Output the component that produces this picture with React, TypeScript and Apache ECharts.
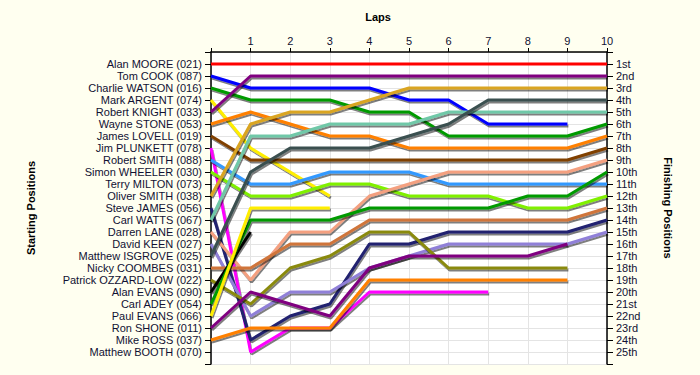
import React, { useEffect, useRef } from "react";
import * as echarts from "echarts";

const laps = [0, 1, 2, 3, 4, 5, 6, 7, 8, 9, 10];
const startNames = [
  "Alan MOORE (021)", "Tom COOK (087)", "Charlie WATSON (016)", "Mark ARGENT (074)",
  "Robert KNIGHT (033)", "Wayne STONE (053)", "James LOVELL (019)", "Jim PLUNKETT (078)",
  "Robert SMITH (088)", "Simon WHEELER (030)", "Terry MILTON (073)", "Oliver SMITH (038)",
  "Steve JAMES (056)", "Carl WATTS (067)", "Darren LANE (028)", "David KEEN (027)",
  "Matthew ISGROVE (025)", "Nicky COOMBES (031)", "Patrick OZZARD-LOW (022)", "Alan EVANS (090)",
  "Carl ADEY (054)", "Paul EVANS (066)", "Ron SHONE (011)", "Mike ROSS (037)", "Matthew BOOTH (070)",
];
const finishLabels = [
  "1st", "2nd", "3rd", "4th", "5th", "6th", "7th", "8th", "9th", "10th", "11th", "12th", "13th",
  "14th", "15th", "16th", "17th", "18th", "19th", "20th", "21st", "22nd", "23rd", "24th", "25th",
];

// position at each lap (index = lap), line stops when driver retired
const posMoore = [1, 1, 1, 1, 1, 1, 1, 1, 1, 1, 1];
const posCook = [2, 3, 3, 3, 3, 4, 4, 6, 6, 6];
const posWatson = [3, 4, 4, 4, 5, 5, 7, 7, 7, 7, 6];
const posArgent = [4, 8, 10, 12];
const posKnight = [5, 2, 2, 2, 2, 2, 2, 2, 2, 2, 2];
const posStone = [6, 5, 6, 7, 7, 8, 8, 8, 8, 8, 7];
const posLovell = [7, 9, 9, 9, 9, 9, 9, 9, 9, 9, 8];
const posPlunkett = [8, 25, 23, 23, 20, 20, 20, 20];
const posRSmith = [9, 11, 11, 10, 10, 10, 11, 11, 11, 11, 11];
const posWheeler = [10, 12, 12, 11, 11, 12, 12, 12, 13, 13, 12];
const posMilton: number[] = [];
const posOSmith = [12, 6, 5, 5, 4, 3, 3, 3, 3, 3, 3];
const posJames = [13, 24, 22, 21, 16, 16, 15, 15, 15, 15, 14];
const posWatts = [14, 7, 7, 6, 6, 6, 5, 5, 5, 5, 5];
const posLane = [15, 19, 15, 15, 12, 11, 10, 10, 10, 10, 9];
const posKeen = [16, 22, 20, 20, 18, 17, 16, 16, 16, 16, 15];
const posIsgrove = [17, 10, 8, 8, 8, 7, 6, 4, 4, 4, 4];
const posCoombes = [18, 18, 16, 16, 14, 14, 14, 14, 14, 14, 13];
const posOzzard = [19, 21, 18, 17, 15, 15, 18, 18, 18, 18];
const posAEvans = [20, 15];
const posAdey = [21, 14, 14, 14, 13, 13, 13, 13, 12, 12, 10];
const posPEvans = [22, 13, 13, 13];
const posShone = [23, 20, 21, 22, 18, 17, 17, 17, 17, 16];
const posRoss = [24, 23, 23, 23, 19, 19, 19, 19, 19, 19];
const posBooth: number[] = [];

const drivers = [
  { name: startNames[0], pos: posMoore, color: "#FF0000" },
  { name: startNames[1], pos: posCook, color: "#0000FF" },
  { name: startNames[2], pos: posWatson, color: "#009A00" },
  { name: startNames[3], pos: posArgent, color: "#FFEE00" },
  { name: startNames[4], pos: posKnight, color: "#800080" },
  { name: startNames[5], pos: posStone, color: "#FF8000" },
  { name: startNames[6], pos: posLovell, color: "#804000" },
  { name: startNames[7], pos: posPlunkett, color: "#FF00FF" },
  { name: startNames[8], pos: posRSmith, color: "#3399FF" },
  { name: startNames[9], pos: posWheeler, color: "#80F000" },
  { name: startNames[10], pos: posMilton, color: "#808080" },
  { name: startNames[11], pos: posOSmith, color: "#DAA520" },
  { name: startNames[12], pos: posJames, color: "#202070" },
  { name: startNames[13], pos: posWatts, color: "#70C8A8" },
  { name: startNames[14], pos: posLane, color: "#F4A080" },
  { name: startNames[15], pos: posKeen, color: "#9080D8" },
  { name: startNames[16], pos: posIsgrove, color: "#3A5050" },
  { name: startNames[17], pos: posCoombes, color: "#D0753A" },
  { name: startNames[18], pos: posOzzard, color: "#8A8A10" },
  { name: startNames[19], pos: posAEvans, color: "#000000" },
  { name: startNames[20], pos: posAdey, color: "#009A00" },
  { name: startNames[21], pos: posPEvans, color: "#FFEE00" },
  { name: startNames[22], pos: posShone, color: "#800080" },
  { name: startNames[23], pos: posRoss, color: "#FF8000" },
  { name: startNames[24], pos: posBooth, color: "#808080" },
];

const FONT = "'Liberation Sans', Arial, sans-serif";
const TEXT = "#111133";

export default function App() {
  const ref = useRef<HTMLDivElement>(null);
  useEffect(() => {
    if (!ref.current) return;
    const chart = echarts.init(ref.current, null, { renderer: "svg" });
    const series = drivers
      .filter((d) => d.pos.length > 0)
      .map((d, idx) => {
        const flat = d.pos.every((p) => p === d.pos[0]);
        return {
          type: "line",
          name: d.name,
          xAxisIndex: 0,
          yAxisIndex: 0,
          symbol: "none",
          data: d.pos.map((p, i) => [laps[i], p]),
          lineStyle: flat
            ? { width: 3, color: d.color }
            : {
                width: 3,
                color: d.color,
                shadowColor: "rgba(0,0,0,0.5)",
                shadowBlur: 1,
                shadowOffsetX: 1,
                shadowOffsetY: 2,
              },
          itemStyle: { color: d.color },
          z: idx === 0 ? 5 : 3,
        };
      });
    const yCommon = {
      type: "value",
      min: 0,
      max: 26,
      interval: 1,
      inverse: true,
      axisLine: { show: true, lineStyle: { color: "#000", width: 1.5 } },
      axisTick: { show: true, length: 6, lineStyle: { color: "#000" } },
    };
    chart.setOption({
      animation: false,
      backgroundColor: "#FFFFF0",
      grid: {
        left: 211,
        right: 93,
        top: 52,
        bottom: 11,
        show: true,
        backgroundColor: "#FFFFFF",
        borderWidth: 0,
      },
      xAxis: {
        type: "value",
        position: "top",
        min: 0,
        max: 10,
        interval: 1,
        axisLine: { show: true, lineStyle: { color: "#000", width: 1.5 } },
        axisTick: { show: true, length: 4, lineStyle: { color: "#000" } },
        axisLabel: {
          margin: 6,
          fontFamily: FONT,
          fontSize: 11,
          color: TEXT,
          formatter: (v: number) => (v === 0 ? "" : String(v)),
        },
        splitLine: { show: true, lineStyle: { color: "#E4E4E4", width: 1 } },
      },
      yAxis: [
        {
          ...yCommon,
          position: "left",
          axisLabel: {
            margin: 9,
            fontFamily: FONT,
            fontSize: 11,
            color: TEXT,
            formatter: (v: number) => (v >= 1 && v <= 25 ? startNames[v - 1] : ""),
          },
          splitLine: { show: true, lineStyle: { color: "#E4E4E4", width: 1 } },
        },
        {
          ...yCommon,
          position: "right",
          axisLabel: {
            margin: 9,
            fontFamily: FONT,
            fontSize: 11,
            color: TEXT,
            formatter: (v: number) => (v >= 1 && v <= 25 ? finishLabels[v - 1] : ""),
          },
          splitLine: { show: false },
        },
      ],
      graphic: [
        {
          type: "text",
          x: 378,
          y: 17,
          style: {
            text: "Laps",
            font: `bold 11px ${FONT}`,
            fill: "#000",
            textAlign: "center",
            textVerticalAlign: "middle",
          },
        },
        {
          type: "text",
          x: 31,
          y: 208,
          rotation: Math.PI / 2,
          style: {
            text: "Starting Positions",
            font: `bold 11px ${FONT}`,
            fill: "#000",
            textAlign: "center",
            textVerticalAlign: "middle",
          },
        },
        {
          type: "text",
          x: 668,
          y: 208,
          rotation: -Math.PI / 2,
          style: {
            text: "Finishing Positions",
            font: `bold 11px ${FONT}`,
            fill: "#000",
            textAlign: "center",
            textVerticalAlign: "middle",
          },
        },
      ],
      series,
    });
    return () => chart.dispose();
  }, []);
  return (
    <div
      ref={ref}
      style={{ position: "fixed", left: 0, top: 0, width: 700, height: 375 }}
    />
  );
}
